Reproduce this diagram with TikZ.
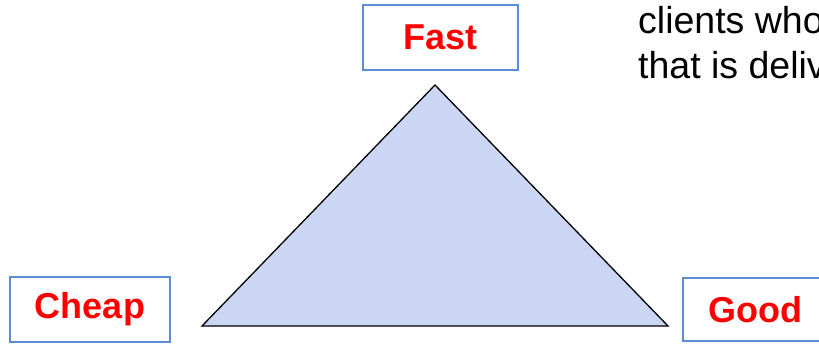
\documentclass[tikz,border=0pt]{standalone}
\usepackage{fontspec}
\setmainfont{Liberation Sans}
\definecolor{boxblue}{RGB}{91,141,212}
\definecolor{trifill}{RGB}{202,214,244}
\definecolor{labred}{RGB}{255,0,0}
\begin{document}
\begin{tikzpicture}[x=1pt,y=-1pt,
  labelbox/.style={draw=boxblue, line width=1.6pt, fill=white, minimum height=65pt,
    inner sep=0pt, font=\fontsize{36}{40}\selectfont\bfseries, text=labred},
  bodytext/.style={font=\fontsize{37.5}{44}\selectfont, text=black, anchor=base west, inner sep=0pt}]
\useasboundingbox (0,0) rectangle (819,343);
\clip (0,0) rectangle (819,343);
\fill[white] (0,0) rectangle (819,343);
% triangle
\coordinate (apex) at (435,85);
\coordinate (bl) at (202,326);
\coordinate (br) at (668,326);
\filldraw[fill=trifill, draw=black, line width=1.3pt, line join=miter] (apex) -- (br) -- (bl) -- cycle;
% labels
\node[labelbox, minimum width=155pt] (fast) at (440.5,37.5) {Fast};
\node[labelbox, minimum width=160pt] (cheap) at (90,309.5) {Cheap};
\node[labelbox, minimum width=144pt, minimum height=63pt] (good) at (755,309.5) {Good};
% body text (cut off at the right edge)
\node[bodytext] (line1) at (638,33) {clients who};
\node[bodytext] (line2) at (638,78) {that is deliv};
\end{tikzpicture}
\end{document}
